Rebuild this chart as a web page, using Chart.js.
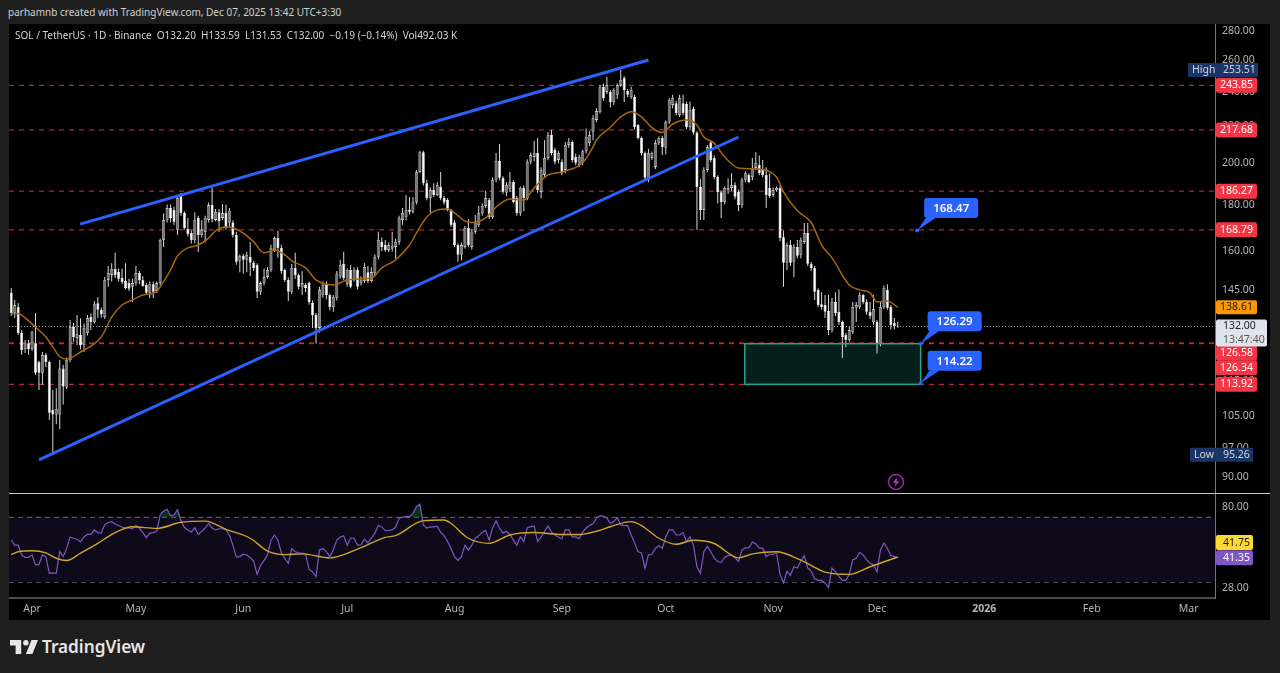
<!DOCTYPE html>
<html>
<head>
<meta charset="utf-8">
<title>SOL / TetherUS</title>
<script src="https://cdn.jsdelivr.net/npm/chart.js@4"></script>
<style>
  body { margin: 0; width: 1280px; height: 673px; background: #1f1f1f; overflow: hidden; font-family: "Noto Sans", sans-serif; position: relative; }
  #panel { position: absolute; left: 9px; top: 24px; width: 1261px; height: 596px; background: #000; }
  canvas { position: absolute; left: 9px; }
  #priceChart { top: 24px; }
  #rsiChart { top: 494px; }
  #sep { position: absolute; left: 9px; top: 493px; width: 1261px; height: 1px; background: #c8c8c8; }
  #created { position: absolute; left: 8px; top: 5px; font-size: 10px; color: #cfcfcf; white-space: nowrap; }
  #legend { position: absolute; left: 15px; top: 28px; font-size: 10px; color: #d1d4dc; white-space: pre; }
  #brand { position: absolute; left: 42px; top: 635px; font-size: 17.2px; font-weight: 600; color: #e6e6e6; }
  #logo { position: absolute; left: 10px; top: 640px; }
  #bolt { position: absolute; left: 887px; top: 473px; }
</style>
</head>
<body>
<div id="panel"></div>
<canvas id="priceChart" width="1261" height="469"></canvas>
<canvas id="rsiChart" width="1261" height="126"></canvas>
<div id="sep"></div>
<div id="created">parhamnb created with TradingView.com, Dec 07, 2025 13:42 UTC+3:30</div>
<div id="legend">SOL / TetherUS · 1D · Binance  O132.20  H133.59  L131.53  C132.00  −0.19 (−0.14%)  Vol492.03 K</div>
<svg id="bolt" width="18" height="18" viewBox="0 0 18 18">
  <circle cx="9" cy="9" r="7.5" fill="none" stroke="#9c27b0" stroke-width="1.5"/>
  <path d="M10.5 4 L5.8 9.8 H8.6 L7.5 14 L12.2 8.2 H9.4 Z" fill="#b13cc7"/>
</svg>
<svg id="logo" width="28" height="14" viewBox="2 6 30 15">
  <path fill="#e6e6e6" d="M14 6H2v6h6v9h6V6zm12 15h-7l6-15h7l-6 15zm-7-9a3 3 0 1 0 0-6 3 3 0 0 0 0 6z"/>
</svg>
<div id="brand">TradingView</div>

<script>
// candles, first one is 6 days before Apr 1
let firstDay = -6;

let opens = [
  143.8,136.6,138.7,129.8,124.6,126.5,124.6,126.5,120.6,117.3,
  122.8,120.6,106.8,105.5,105.5,118.6,113,121.2,131.8,128.2,
  129.2,125.9,129.8,135.2,133.5,140,137.7,135.2,148.6,150.5,
  152.8,151.6,149.3,148.2,147.4,146,147.4,151.2,148.6,146.7,
  143.8,147,144.5,147.4,164.5,173,178.4,177.6,168.8,184.5,
  176.2,169.2,167.4,164.5,174,166.6,168,173.1,179.8,173.1,
  176.5,174,176.2,172,172,166.6,156,158,156.4,157.6,
  155.2,154.4,144.2,147.4,149.7,152.4,160.4,165.3,161.2,152.4,
  148.6,144.2,153.2,150.5,146,146.7,147.4,140.1,135.9,131.5,
  143,146.7,143,138.7,142,149.9,154.8,147,152.4,148.6,
  152.4,147.4,148.2,151.5,148.2,151.2,157.6,163.7,162.4,160.4,
  161,161.6,163.7,173.1,174.4,177.6,176.7,181,195.6,205.7,
  190,183,186.8,184.5,188.2,183,182.1,177.6,172,162.4,
  158.4,161.6,169.6,161.6,168,170.9,176.2,179.4,182.1,174.4,
  191.7,201.2,192.7,185.6,187.3,190.7,183,176.2,187.8,183,
  200.7,203.2,205.3,186,194.1,202.7,214.9,206.8,201.7,200.7,
  196.6,209.5,211.1,203.2,199.1,200.2,206.2,210.5,216.6,223.3,
  227.8,243,239.8,239.8,233.7,238,244,248.4,240.4,236.7,
  236.7,220.4,213.3,205.3,191.7,202.7,198.1,210.5,213.3,208,
  222.2,232,233,226.1,233,232.5,219.2,229.6,216.2,188.2,
  177.6,196.6,211,202.7,193.1,185.7,181.2,186.8,187.8,189.2,
  185.9,179.8,191.7,194.1,193,197.6,199.1,196.6,194.1,187.8,
  184.5,186.8,187.8,165.7,155.2,162.4,155.6,161.6,158.4,163.7,
  167.4,154.8,153.2,144.9,139.7,139.4,137.3,130.8,140.5,137,
  133.5,129.2,127.5,130.2,138.4,138.7,143,140.5,137,133.5,
  133.5,126.3,138.7,144.9,138.7,133.2,132.2
];
let highs = [
  145.6,141.2,140.1,130.8,127.5,127.5,130.5,136.6,121,123.7,
  123.4,121,112.3,112.8,121.2,119.7,122,134.2,133.2,135.9,
  134.8,133,135.9,136.5,140.8,142.3,138.5,149.6,154,155,
  159.2,153,153,155,149,149,154,152,150,147.5,
  148,148,148,165,176,180,180,179,184.4,185.3,
  177,174,168.5,176.5,175,173,175,181,188,178,
  178,180.3,180,178.5,173,168,158.5,158.8,159.5,163.7,
  156,155,148,153,153.5,162.5,166,168.4,162.5,153,
  149.5,154.8,159.2,151,152,147.4,148,141,136.6,146,
  148,148,143.5,143,152,156.4,159.6,153,154.4,153.5,
  153.5,150,155,154,153.5,158.5,168,165.5,164.5,163.5,
  168,165,175,178.4,184.5,183.5,183.4,196.6,206.5,206.5,
  191.7,188,190,190.5,195.6,184,183,178,173,163,
  163.5,170.5,173.5,169,175.3,179.4,180.5,186.4,183,193,
  205.3,210,193.5,190.5,195.6,191.5,184,188.5,189,202,
  205.5,211.7,213.3,198,212,216.5,217.7,208,206.5,202,
  211,213.3,212,205,204.5,207,218.5,217,226,230,
  244,245,249,241,242,245,253.51,249.5,241.5,243,
  238,221,214,206,207.5,206,212,214,214.5,223,
  236,238,234.5,238,238,234,234,231,217,192,
  198,209.5,212,204,194,186.5,188.5,192.5,195,190.5,
  187,192.7,196,195,202.7,205.7,204,201.7,198,195,
  188,188.5,189,168.4,163.5,164.5,162.7,164.5,165.5,171.8,
  171.8,155.5,154,145.5,144,143,143,142,144,145,
  134,129.8,132,140.5,140.5,144,143.5,141.5,140.5,143,
  134.2,140.8,146.5,147,139.4,134.9,133.59
];
let lows = [
  135.6,134.9,129.2,122.8,123.4,122.8,124,116.7,112.3,113.8,
  119,104.1,95.26,102.9,101.6,108.2,112.5,120.5,127,125.9,
  124.6,123.7,129,130.8,133,135,135,134.5,146,148,
  149.3,148,147,145,144.5,140.5,146.5,147,146,143,
  141.9,141.9,143.8,146.5,161.6,172,172,171,166.6,175,
  169,166,163,163,159.5,165.5,163.5,172,172,172.5,
  168,173,169,170,165.5,154.5,151.5,151,151.5,150,
  152,141.9,143,146.5,149,151.5,159.5,157.2,151,147.8,
  140.8,143.4,149,145,143,144,139.5,131.5,126.3,130,
  142,141.5,137.5,137,141,149,148.5,146,145.5,148,
  145,146.5,147.4,147.4,147.6,150,156.5,160,159.6,159.5,
  159.6,156.8,162.5,171,173,175.5,176,180,195,189,
  182,176.2,183.5,184,182,180,177,170,161.5,155.6,
  156.2,161,161.5,160.5,167,170,175,178.5,173.5,173.5,
  190.5,191.5,185,184,186,180.5,175,175,177,182,
  199.5,201,185.5,183,193,201.5,204,199.5,200,194,
  195,208,200.5,199,198,199,205,209,212,222,
  227,234.5,238.5,230.5,232,235.5,243,233.7,236.5,235.5,
  218,212.5,204,191,190.5,201.7,197,209.5,204.2,204.5,
  221,230,226,225,226,218,218,215,168.8,173.1,
  173.1,195.5,200.5,192,180.5,174,180,185,186.5,182.5,
  177,178.5,190.5,190,191.5,196.5,194,193,178.5,183,
  183.5,186,164,146,152.4,154,149.7,157,157,162.8,
  154,152,141.2,138.7,137.7,134.9,129.2,130,135.5,132.5,
  121.8,125.3,127,129.5,133.5,138,139.7,136,134.5,132.5,
  123.2,125.5,138,137.7,131,131,131.53
];
let closes = [
  136.6,139.4,129.8,124.3,126.5,124.6,130.2,117.3,117.3,122.8,
  120.6,106,105.5,107,118.6,113.3,121.2,131.8,128.5,129.5,
  125.9,131.5,134.9,133.5,139.7,137.7,136.2,148.6,151.2,152.8,
  150.5,149,147.8,145.6,145.3,147.4,151.2,148.6,146.3,143.8,
  147,144.2,147.4,164.5,173.1,178.4,174,172.3,182.9,176.2,
  169.6,167,164.5,173.1,166.6,168.8,174,179.8,173.5,176.7,
  172.5,176.2,170,177.2,166.6,155.6,158,156.4,158.4,155.2,
  153.2,144.2,147.4,149.7,152.4,161.2,165.3,161.2,152,148.6,
  144.2,153.2,150.5,146,147.4,145.6,140.5,135.9,131.5,144.9,
  146.7,143,138.7,142.3,151,154.4,149.3,152.4,146,152.4,
  146,148.6,153.6,148.2,151.6,157.6,164.5,161.6,160.4,162.4,
  162,163.7,174,176.2,177.6,176.7,181,195.6,205.7,190,
  183,186.8,184.5,189.2,183,181,177.6,170.9,162.4,158.4,
  162.4,169.6,162.4,168,172,176.2,179.4,183,174.4,191.7,
  201.2,192.7,186,189.2,190.7,181.2,176.2,187.8,183,200.7,
  204.2,205.3,186.8,196.6,202.7,214.9,205.3,200.7,205.3,195,
  209.5,211.1,201.7,200.2,203.2,206.2,213.8,214.9,224.4,228.4,
  242.7,236,244,233.7,241,244,247.2,241,238,241,
  219.2,213.3,205.3,192.7,205.3,205.3,210.5,213.3,208.4,222.2,
  234.9,236.1,227.3,236.1,227.3,219.2,229,216.2,188.2,177.6,
  196.6,208.4,201.7,193.1,185.7,181.2,187.8,187.8,189.2,183.6,
  179.8,191.7,195,190.7,197.6,200.2,195.1,194.1,184.5,184,
  186.8,187.8,165.3,155.2,162.4,155.2,161.6,158,164.5,167.4,
  154.8,153.2,144.2,139.4,138.7,137,130.8,140.5,136.6,133.5,
  128.5,127.5,130.8,138.7,139.4,143,140.5,137,135.6,138,
  126.5,138.7,145.6,138.4,132.5,132.2,132
];

// orange average, read every few days
let emaDays = [-6,-4,-2,1,4,6,8,10,14,20,23,26,29,32,36,37,40,42,45,48,51,53,56,58,61,64,67,70,73,75,79,82,87,91,95,98,101,105,109,112,114,117,120,122,125,127,131,134,138,142,145,149,153,159,162,163,167,170,173,176,179,182,185,189,192,194,197,200,204,209,215,217,221,225,228,231,236,239,242,244,247,250];
let emaValues = [136.4,136.4,134.9,131.8,128.5,125.3,122.2,121.5,123.7,128.5,135.2,139.4,141.2,143,144.2,146,152.4,158,161.2,162.4,165.3,168.4,170,169.6,167.4,163.7,159.2,160.4,158.4,156,153.2,148.6,146.7,148.6,149,149.3,153.2,156.4,162.4,170,174.4,177.6,178,176.2,172.6,172,174,178.9,182.6,182.1,187.8,194.1,195.6,200.2,208.4,212.2,219.2,225,228,225,219,216.2,221,223.3,220.4,213.8,210.5,203.2,197.6,197.1,193.1,185.9,177.2,172,162.4,157.2,146.7,144.9,143.8,140.5,140.8,138.61];

// RSI, one value per candle
let rsiValues = [
  52,48.7,48.7,42.9,41.5,41.5,42.9,37.8,37.8,42.9,
  42,33.8,34,33.8,45,42,46.7,54.2,53.3,52.6,
  51,54.2,56,56,59.4,57.4,57,63.8,65.4,66.2,
  64.1,62.9,61.5,60.9,60.9,60.2,62.9,60.9,57.4,53.7,
  57,57.4,58.4,72.2,76,77.8,71.5,72.2,77.3,66.8,
  61.5,59.4,57.7,61.2,56,58.4,60.9,64.6,60.9,59.4,
  60.3,60.3,59.4,55.6,48.7,41.7,42,43.3,42.9,41.5,
  39.6,33.3,37.4,40,42.9,52,55.6,52,44,41.1,
  38.5,46.7,44.7,44,44,43.3,35.5,34.4,32.3,45.8,
  46.7,44.7,42,45.8,52,54.2,55,48.7,53.3,53.3,
  48.7,49,52.6,50.2,53.3,57,62.9,61.8,58.9,59.1,
  59.4,61.5,69.1,70.2,70.6,70.6,73.7,80.4,83.1,63.4,
  60.9,61.8,61.8,62.3,57.7,55,51,46.7,42,39.9,42,
  48.7,45.8,48.7,53.3,55,57.7,58.9,52,61.2,66.8,
  60.9,57,58.4,56,52,48.7,54.2,51,60.9,62,
  62.5,51,54.2,58.4,62.5,57.7,55.6,54.2,53,59.4,
  59.4,54.2,54.2,53,57.7,60.9,62.9,64.6,69.3,71.5,
  71.2,69.3,64.6,66.2,69.7,63.4,62.9,62.9,55.6,50.2,
  44.7,44,36,42.9,43.3,46.7,48.3,46.7,54.2,59.4,
  59.4,55.6,55.6,57.4,51,54.2,48.7,36.8,33.8,44.7,
  48,44.7,41.1,39.4,38.9,41.7,42.5,42.9,41.5,39.4,
  45.8,47,47.2,50.7,49.6,47,46.7,42,43.3,43.3,
  44,33.3,29.8,34.7,32.9,36.8,36.2,39.6,42.5,36.2,
  34.7,31.5,30.8,30.8,29.8,28.1,36.2,34.4,32.6,30.8,
  30.8,33.3,40.2,41.1,44.4,42.9,40.2,38.5,37.8,34.4,
  45.8,50.2,46.7,42.6,42,41.35
];
let rsiMaDays = [-6,-4,0,4,7,10,14,19,24,29,36,43,50,56,63,68,73,78,86,94,102,105,113,119,121,126,132,138,145,153,158,163,167,173,176,181,186,191,197,204,208,215,222,229,236,242,250];
let rsiMaValues = [43.1,44.7,45.3,44.1,41.1,39.9,43.9,49.9,57.4,61.9,60.6,65.6,66.6,59.9,53.3,45.1,43.1,43.5,41.3,46.3,53.9,55.2,67,67.6,64.6,53.3,49.9,55.6,57.4,56,56,58.4,61.9,66.2,62.9,53.3,49.3,51.9,49.8,41.3,43.5,44.7,40.1,34.3,33.3,36.8,41.75];
let rsiLevels = [70, 50, 30];

// drawn levels and trendlines
let levelValues = [243.85, 217.68, 186.27, 168.79, 126.58, 126.34, 113.92];
let lastPrice = 132;
let upperTrendDays = [13.9, 178];
let upperTrendPrices = [171.3, 260.1];
let lowerTrendDays = [2, 204];
let lowerTrendPrices = [94, 213.8];
let zoneDays = [205.8, 256.6];
let zonePrices = [126.34, 113.92];
let calloutDays = [255.6, 256.6, 256.6];
let calloutPrices = [168.47, 126.29, 114.22];

// axes
let priceTicks = [280, 260, 240, 220, 200, 180, 160, 145, 130, 115, 105, 97, 90];
let rsiTicks = [80, 28];
let monthDays = [0, 30, 61, 91, 122, 153, 183, 214, 244, 275, 306, 334];
let monthLabels = ["Apr", "May", "Jun", "Jul", "Aug", "Sep", "Oct", "Nov", "Dec", "2026", "Feb", "Mar"];

let xMin = -6.65, xMax = 341.6;
let fontName = '"Noto Sans", sans-serif';
let tickColor = "#b2b5be";
let days = opens.map((o, i) => i + firstDay);

function pairs(xs, ys) {
  return xs.map((x, i) => ({ x: x, y: ys[i] }));
}

function flatLine(value, color, dash, width) {
  return {
    type: "line",
    data: [{ x: xMin, y: value }, { x: xMax, y: value }],
    borderColor: color,
    borderDash: dash,
    borderWidth: width,
    pointRadius: 0,
    order: 6
  };
}

function drawTag(ctx, x, y, w, h, bg, fg, text) {
  ctx.fillStyle = bg;
  ctx.beginPath();
  ctx.roundRect(x, y - h / 2, w, h, 2);
  ctx.fill();
  ctx.fillStyle = fg;
  ctx.font = "10.5px " + fontName;
  ctx.textAlign = "center";
  ctx.textBaseline = "middle";
  ctx.fillText(text, x + 20.5, y);
}

function noAxisPadding(s) {
  s.paddingTop = 0;
  s.paddingBottom = 0;
  s.paddingLeft = 0;
  s.paddingRight = 0;
}

function xAxisBase() {
  return {
    type: "linear",
    min: xMin,
    max: xMax,
    offset: false,
    grid: { display: false }
  };
}

function yAxisBase(tickList) {
  return {
    type: "logarithmic",
    position: "right",
    offset: false,
    grid: { display: false, drawTicks: false },
    border: { color: "#77777a", width: 1 },
    afterBuildTicks: s => { s.ticks = tickList.map(v => ({ value: v })); },
    afterFit: s => { s.width = 55; noAxisPadding(s); },
    ticks: {
      autoSkip: false,
      padding: 7,
      color: tickColor,
      font: { family: fontName, size: 10.5 },
      callback: v => Number(v).toFixed(2)
    }
  };
}

// zone under the candles
let zonePlugin = {
  id: "zone",
  beforeDatasetsDraw(c) {
    let x = c.scales.x, y = c.scales.y, ctx = c.ctx;
    let x1 = x.getPixelForValue(zoneDays[0]), x2 = x.getPixelForValue(zoneDays[1]);
    let y1 = y.getPixelForValue(zonePrices[0]), y2 = y.getPixelForValue(zonePrices[1]);
    ctx.save();
    ctx.fillStyle = "#05201a";
    ctx.fillRect(x1, y1, x2 - x1, y2 - y1);
    ctx.restore();
  },
  afterDatasetsDraw(c) {
    let x = c.scales.x, y = c.scales.y, ctx = c.ctx;
    let x1 = x.getPixelForValue(zoneDays[0]), x2 = x.getPixelForValue(zoneDays[1]);
    let y1 = y.getPixelForValue(zonePrices[0]), y2 = y.getPixelForValue(zonePrices[1]);
    ctx.save();
    ctx.strokeStyle = "#1fa68f";
    ctx.lineWidth = 1.5;
    ctx.strokeRect(x1, y1, x2 - x1, y2 - y1);
    ctx.restore();
  }
};

// blue callouts and the price tags on the right
let labelPlugin = {
  id: "labels",
  afterDraw(c) {
    let x = c.scales.x, y = c.scales.y, ctx = c.ctx;
    ctx.save();
    calloutPrices.forEach((p, i) => {
      let ax = x.getPixelForValue(calloutDays[i]), ay = y.getPixelForValue(p);
      ctx.fillStyle = "#2962ff";
      ctx.beginPath();
      ctx.moveTo(ax, ay);
      ctx.lineTo(ax + 9, ay - 13);
      ctx.lineTo(ax + 19, ay - 13);
      ctx.closePath();
      ctx.fill();
      ctx.beginPath();
      ctx.arc(ax, ay, 2, 0, Math.PI * 2);
      ctx.fill();
      ctx.beginPath();
      ctx.roundRect(ax + 7, ay - 32.5, 54, 20, 3);
      ctx.fill();
      ctx.fillStyle = "#fff";
      ctx.font = "600 11.5px " + fontName;
      ctx.textAlign = "center";
      ctx.textBaseline = "middle";
      ctx.fillText(p.toFixed(2), ax + 34, ay - 22);
    });

    let left = c.chartArea.right + 1;
    levelValues.forEach(v => {
      let py = y.getPixelForValue(v);
      if (v === 126.58) py += 10;
      if (v === 126.34) py += 24;
      drawTag(ctx, left, py, 41, 15, "#f23645", "#fff", v.toFixed(2));
    });
    drawTag(ctx, left, y.getPixelForValue(138.61), 41, 14, "#ff9800", "#1a1a1a", "138.61");

    // last price with countdown
    let py = y.getPixelForValue(lastPrice) + 6.5;
    ctx.fillStyle = "#e0e3eb";
    ctx.beginPath();
    ctx.roundRect(left, py - 13.5, 51, 27, 2);
    ctx.fill();
    ctx.fillStyle = "#222";
    ctx.font = "10.5px " + fontName;
    ctx.textAlign = "left";
    ctx.textBaseline = "middle";
    ctx.fillText(lastPrice.toFixed(2), left + 7, py - 6.5);
    ctx.fillStyle = "#555";
    ctx.fillText("13:47:40", left + 7, py + 7);

    // high and low flags
    let flags = [["High", 253.51, -28, 70], ["Low", 95.26, -26, 63]];
    flags.forEach(f => {
      let fy = y.getPixelForValue(f[1]);
      ctx.fillStyle = "#1a3566";
      ctx.beginPath();
      ctx.roundRect(left + f[2], fy - 7, f[3], 14, 1);
      ctx.fill();
      ctx.fillStyle = "#d1d4dc";
      ctx.textAlign = "left";
      ctx.fillText(f[0], left + f[2] + 4, fy);
      ctx.fillText(f[1].toFixed(2), left + 7, fy);
    });
    ctx.restore();
  }
};

let rsiTagPlugin = {
  id: "rsiTags",
  afterDraw(c) {
    let y = c.scales.y, ctx = c.ctx, left = c.chartArea.right + 1;
    ctx.save();
    drawTag(ctx, left, y.getPixelForValue(41.75) - 14.5, 37, 15, "#fdd835", "#1a1a1a", "41.75");
    drawTag(ctx, left, y.getPixelForValue(41.35), 37, 15, "#7e57c2", "#fff", "41.35");
    ctx.restore();
  }
};

// 📈 PRICE
function drawPrice() {
  let wickData = days.map((d, i) => ({ x: d, y: [lows[i], highs[i]] }));
  let bodyData = days.map((d, i) => ({ x: d, y: [opens[i], closes[i]] }));
  let lines = levelValues.map(v => flatLine(v, "#e8283c", [5, 5], 1));
  lines.push(flatLine(lastPrice, "#9a9a9a", [1, 2], 1));

  new Chart(document.getElementById("priceChart"), {
    type: "bar",
    data: {
      datasets: [
        {
          data: wickData,
          backgroundColor: "#d8d8d8",
          barThickness: 1,
          grouped: false,
          inflateAmount: 0,
          order: 5
        },
        {
          data: bodyData,
          backgroundColor: days.map((d, i) => (closes[i] > opens[i] ? "#777" : "#fff")),
          borderColor: "#f2f2f2",
          borderWidth: 0.6,
          borderSkipped: false,
          barThickness: 3,
          grouped: false,
          inflateAmount: 0,
          order: 4
        },
        {
          type: "line",
          data: pairs(emaDays, emaValues),
          borderColor: "#a9660c",
          borderWidth: 1.5,
          pointRadius: 0,
          cubicInterpolationMode: "monotone",
          order: 3
        },
        {
          type: "line",
          data: pairs(upperTrendDays, upperTrendPrices),
          borderColor: "#2962ff",
          borderWidth: 3,
          pointRadius: 0,
          order: 1
        },
        {
          type: "line",
          data: pairs(lowerTrendDays, lowerTrendPrices),
          borderColor: "#2962ff",
          borderWidth: 3,
          pointRadius: 0,
          order: 1
        }
      ].concat(lines)
    },
    options: {
      responsive: false,
      animation: false,
      devicePixelRatio: 1,
      events: [],
      layout: { padding: 0 },
      plugins: { legend: { display: false }, tooltip: { enabled: false } },
      scales: {
        x: Object.assign(xAxisBase(), { display: false }),
        y: Object.assign(yAxisBase(priceTicks), { min: 86.4, max: 285.03 })
      }
    },
    plugins: [zonePlugin, labelPlugin]
  });
}

// 📉 RSI
function drawRsi() {
  let levelSets = rsiLevels.map(v => flatLine(v, "#6f6c78", [5, 4], 1));
  levelSets[0].fill = { target: { value: 30 }, above: "#0e0a1a" };

  new Chart(document.getElementById("rsiChart"), {
    type: "line",
    data: {
      datasets: [
        {
          data: pairs(days, rsiValues),
          borderColor: "#7e57c2",
          borderWidth: 1.2,
          pointRadius: 0,
          fill: { target: { value: 70 }, above: "rgba(20,110,60,0.45)", below: "transparent" },
          order: 2
        },
        {
          data: pairs(rsiMaDays, rsiMaValues),
          borderColor: "#cfa52a",
          borderWidth: 1.4,
          pointRadius: 0,
          cubicInterpolationMode: "monotone",
          order: 1
        }
      ].concat(levelSets)
    },
    options: {
      responsive: false,
      animation: false,
      devicePixelRatio: 1,
      events: [],
      layout: { padding: 0 },
      plugins: { legend: { display: false }, tooltip: { enabled: false } },
      scales: {
        x: Object.assign(xAxisBase(), {
          border: { color: "#4a4a4a", width: 2 },
          afterBuildTicks: s => { s.ticks = monthDays.map(v => ({ value: v })); },
          afterFit: s => { s.height = 22; noAxisPadding(s); },
          grid: { display: false, drawTicks: false },
          ticks: {
            autoSkip: false,
            maxRotation: 0,
            padding: 5,
            color: tickColor,
            font: c => ({ family: fontName, size: 10.5, weight: c.tick && c.tick.value === 275 ? "bold" : "normal" }),
            callback: v => monthLabels[monthDays.indexOf(v)]
          }
        }),
        y: Object.assign(yAxisBase(rsiTicks), { min: 24.5, max: 94.8 })
      }
    },
    plugins: [rsiTagPlugin]
  });
}

window.onload = function () {
  drawPrice();
  drawRsi();
};
</script>
</body>
</html>
